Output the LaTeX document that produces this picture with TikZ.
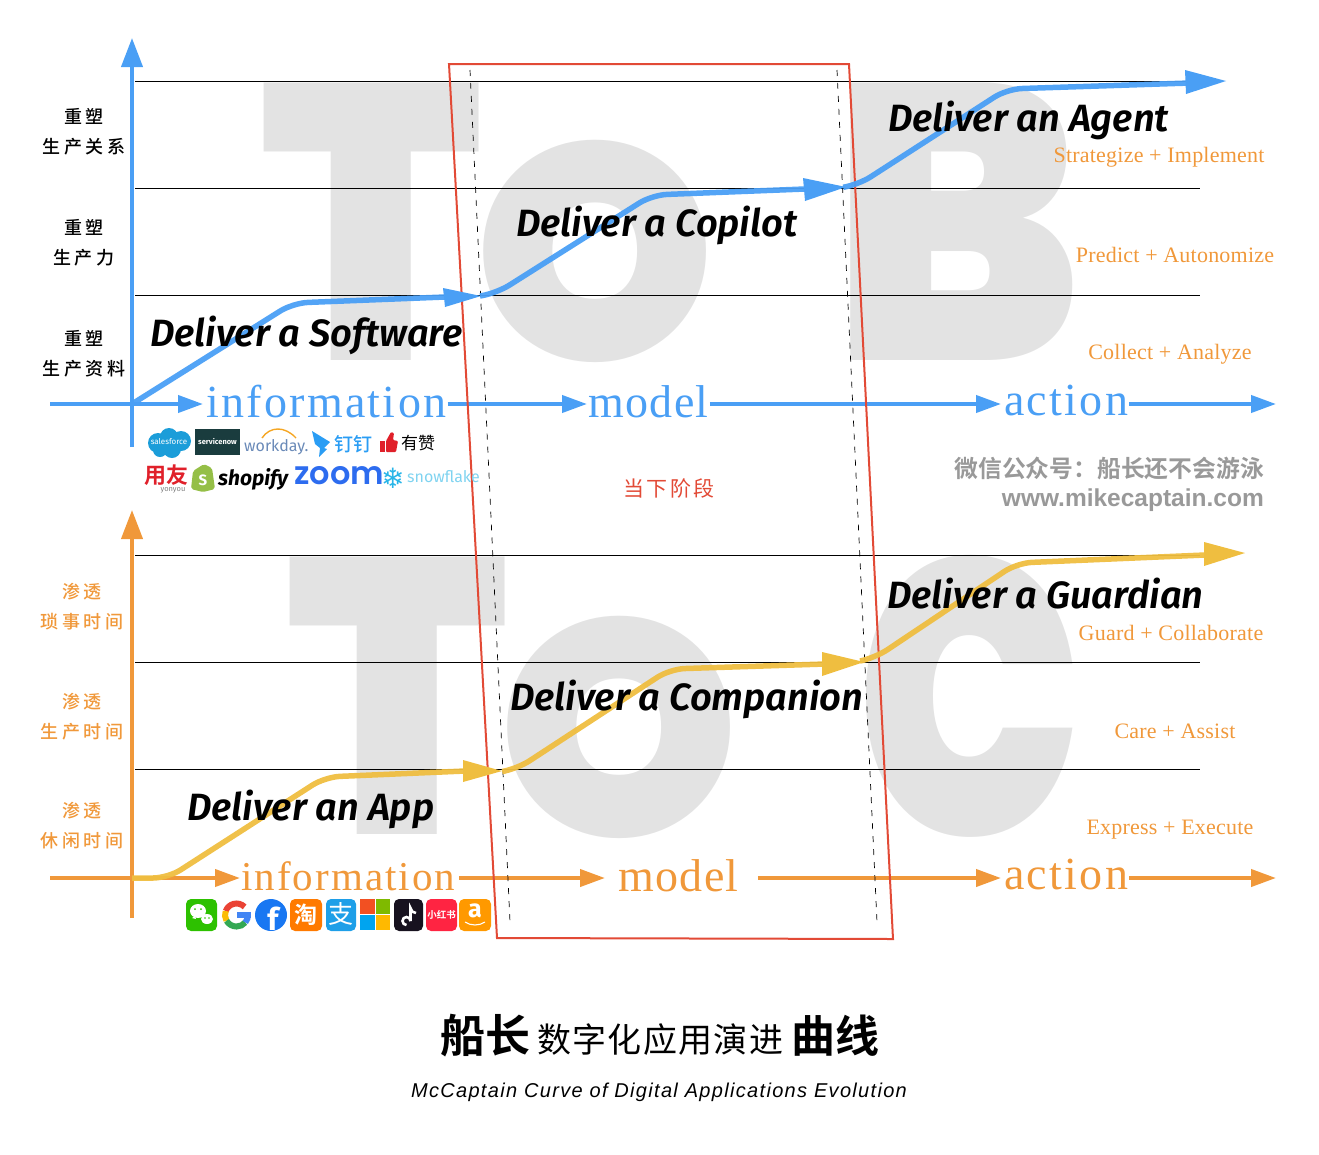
\documentclass[tikz,border=0pt]{standalone}
\usepackage{fontspec}
\usepackage{tikz}
\usetikzlibrary{arrows.meta, positioning}
\setmainfont{Liberation Serif}
\setsansfont{Liberation Sans}
\newfontfamily\cjkfont{Noto Sans CJK SC}
\newfontfamily\cjkmedium{Noto Sans CJK SC Medium}
\newfontfamily\cjkbold{Noto Sans CJK SC Bold}
\newfontfamily\heavyfont{Poppins Black}
\newfontfamily\zoomfont{Poppins SemiBold}
\newfontfamily\deliverfont{Fira Sans SemiBold Italic}
\newfontfamily\logofont{Fira Sans}
\newfontfamily\symbfont{DejaVu Sans}
\definecolor{axisblue}{HTML}{4A9FF5}
\definecolor{axisorange}{HTML}{F0983A}
\definecolor{curveyellow}{HTML}{EFBE40}
\definecolor{framered}{HTML}{E24A36}
\definecolor{lettergray}{HTML}{E3E3E3}
\definecolor{forceblue}{HTML}{1B9DD9}
\definecolor{nowdark}{HTML}{1A3C3E}
\definecolor{workslate}{HTML}{6A8AB8}
\definecolor{workorange}{HTML}{F5A623}
\definecolor{dingblue}{HTML}{2A9DF4}
\definecolor{thumbred}{HTML}{E0202A}
\definecolor{shopgreen}{HTML}{95BF47}
\definecolor{zoomblue}{HTML}{2D6CEF}
\definecolor{flakeblue}{HTML}{29B5E8}
\definecolor{flakelight}{HTML}{7FD3F0}
\definecolor{chatgreen}{HTML}{2DC100}
\definecolor{gred}{HTML}{EA4335}
\definecolor{gyellow}{HTML}{FBBC05}
\definecolor{ggreen}{HTML}{34A853}
\definecolor{gblue}{HTML}{4285F4}
\definecolor{fbblue}{HTML}{1877F2}
\definecolor{taoorange}{HTML}{FF7A00}
\definecolor{payblue}{HTML}{1E9FE8}
\definecolor{msred}{HTML}{F25022}
\definecolor{msgreen}{HTML}{7FBA00}
\definecolor{msblue}{HTML}{00A4EF}
\definecolor{msyellow}{HTML}{FFB900}
\definecolor{tokblack}{HTML}{17121F}
\definecolor{bookred}{HTML}{FF2442}
\definecolor{amazonorange}{HTML}{FF9900}
\tikzset{
  bigletter/.style={lettergray, inner sep=0pt, font=\fontsize{392}{392}\heavyfont},
  bigroundletter/.style={lettergray, inner sep=0pt, font=\fontsize{306}{306}\heavyfont},
  stagelabel/.style={font=\fontsize{38}{38}\deliverfont, inner sep=0pt},
  flowword/.style={font=\fontsize{46}{46}\selectfont\addfontfeature{LetterSpace=5}, inner sep=1pt},
  flowshort/.style={font=\fontsize{46}{46}\selectfont\addfontfeature{LetterSpace=3}, inner sep=1pt},
  verblabel/.style={axisorange, font=\fontsize{22}{22}\selectfont\addfontfeature{LetterSpace=1}, inner sep=0pt},
  rowlabel/.style={align=center, font=\fontsize{18}{30}\cjkmedium\addfontfeature{LetterSpace=19}, inner sep=0pt},
  gridline/.style={black, line width=0.7pt},
  axisline/.style={line width=4pt, -{Stealth[length=25pt, width=17pt, inset=0pt]}},
  axisup/.style={line width=4pt, -{Stealth[length=29pt, width=21pt, inset=0pt]}},
  curveline/.style={line width=5.5pt, opacity=0.95, rounded corners=15pt},
  dashline/.style={black, dash pattern=on 6pt off 7pt, line width=0.7pt},
  iconbox/.style={rounded corners=5pt},
  logotext/.style={inner sep=0pt, anchor=west},
  icontext/.style={white, inner sep=0pt},
}
\begin{document}
\begin{tikzpicture}[x=1pt, y=-1pt]
  \useasboundingbox (0,0) rectangle (1319,1154);
  %% background letters
  \node[bigletter] (bigT1) at (372,222) {\scalebox{.92}[1]{T}};
  \node[bigroundletter] (bigO1) at (595,251) {O};
  \node[bigletter] (bigB1) at (957,222) {\scalebox{.93}[1]{B}};
  \node[bigletter] (bigT2) at (398,696) {\scalebox{.92}[1]{T}};
  \node[bigroundletter] (bigO2) at (619,727) {O};
  \node[bigletter] (bigC2) at (970,696) {\scalebox{.76}[1]{C}};

  %% grid
  \foreach \y in {81,188,295} \draw[gridline] (135,\y) -- (1200,\y);
  \foreach \y in {555,662,769} \draw[gridline] (135,\y) -- (1200,\y);

  %% top axes
  \coordinate (topO) at (132,404);
  \coordinate (topStart) at (50,404);
  \node[flowword, axisblue, anchor=west] (info1) at (205,402) {information};
  \node[flowshort, axisblue, anchor=west] (model1) at (587,402) {model};
  \node[flowword, axisblue, anchor=west] (action1) at (1003,400) {action};
  \coordinate (topEnd) at (1276,404);
  \coordinate (topUp) at (132,38);
  \coordinate (topDown) at (132,447);
  \draw[axisup, axisblue] (topDown) -- (topUp);
  \draw[axisline, axisblue, shorten >=2pt] (topStart) -- (info1.west |- topO);
  \draw[axisline, axisblue] (info1.east |- topO) -- (model1.west |- topO);
  \draw[axisline, axisblue, shorten >=2pt] (model1.east |- topO) -- (action1.west |- topO);
  \draw[axisline, axisblue] (action1.east |- topO) -- (topEnd);

  %% bottom axes
  \coordinate (botO) at (132,878);
  \coordinate (botStart) at (50,878);
  \node[flowword, axisorange, anchor=west, font=\fontsize{41}{41}\selectfont\addfontfeature{LetterSpace=5}] (info2) at (240,876) {information};
  \node[flowshort, axisorange, anchor=west] (model2) at (617,876) {model};
  \node[flowword, axisorange, anchor=west] (action2) at (1003,874) {action};
  \coordinate (botEnd) at (1276,878);
  \coordinate (botUp) at (132,510);
  \coordinate (botDown) at (132,918);
  \draw[axisup, axisorange] (botDown) -- (botUp);
  \draw[axisline, axisorange] (botStart) -- (info2.west |- botO);
  \draw[axisline, axisorange, shorten <=3pt, shorten >=12pt] (info2.east |- botO) -- (model2.west |- botO);
  \draw[axisline, axisorange, shorten <=18pt, shorten >=2pt] (model2.east |- botO) -- (action2.west |- botO);
  \draw[axisline, axisorange] (action2.east |- botO) -- (botEnd);

  %% frame
  \draw[framered, line width=2pt] (449,64) -- (849,64) -- (893,939) -- (497,938) -- cycle;
  \draw[dashline] (470,70) -- (510,922);
  \draw[dashline] (837,70) -- (877,922);
  \node[framered, font=\fontsize{21}{21}\cjkfont\addfontfeature{LetterSpace=11}] (nowlabel) at (669,488) {当下阶段};

  %% blue curve
  \draw[curveline, axisblue] (topO) -- (293,303) -- (445,297);
  \draw[curveline, axisblue] (480,296) -- (497,293) -- (652,195) -- (805,189);
  \draw[curveline, axisblue] (845,187) -- (858,185) -- (1007,89) -- (1190,83);
  \fill[axisblue] (443,288) -- (481,296) -- (445,307) -- cycle;
  \fill[axisblue] (803,178) -- (846,187) -- (805,201) -- cycle;
  \fill[axisblue] (1185,70) -- (1226,81) -- (1186,94) -- cycle;

  %% yellow curve
  \draw[curveline, curveyellow] (botO) -- (168,878) -- (325,777) -- (465,771);
  \draw[curveline, curveyellow] (505,771) -- (517,769) -- (670,669) -- (825,664);
  \draw[curveline, curveyellow] (860,661) -- (875,658) -- (1017,563) -- (1205,555);
  \fill[curveyellow] (463,760) -- (502,771) -- (463,782) -- cycle;
  \fill[curveyellow] (822,652) -- (864,662) -- (822,676) -- cycle;
  \fill[curveyellow] (1204,542) -- (1245,553) -- (1204,566) -- cycle;

  %% stage names
  \node[stagelabel, anchor=west] (software) at (150,335) {Deliver a Software};
  \node[stagelabel, anchor=west] (copilot) at (516,225) {Deliver a Copilot};
  \node[stagelabel, anchor=west] (agent) at (888,120) {Deliver an Agent};
  \node[stagelabel, anchor=west] (app) at (187,809) {Deliver an App};
  \node[stagelabel, anchor=west] (companion) at (510,699) {Deliver a Companion};
  \node[stagelabel, anchor=west] (guardian) at (887,594) {Deliver a Guardian};

  %% verb labels
  \node[verblabel] (collect) at (1170,354) {Collect + Analyze};
  \node[verblabel] (predict) at (1175,255) {Predict + Autonomize};
  \node[verblabel] (strategize) at (1159,157) {Strategize + Implement};
  \node[verblabel] (express) at (1170,830) {Express + Execute};
  \node[verblabel] (care) at (1175,731) {Care + Assist};
  \node[verblabel] (guard) at (1171,633) {Guard + Collaborate};

  %% row labels
  \node[rowlabel] (rowa) at (84,132) {重塑\\生产关系};
  \node[rowlabel] (rowb) at (84,243) {重塑\\生产力};
  \node[rowlabel] (rowc) at (84,354) {重塑\\生产资料};
  \node[rowlabel, axisorange] (rowd) at (82,607) {渗透\\琐事时间};
  \node[rowlabel, axisorange] (rowe) at (82,717) {渗透\\生产时间};
  \node[rowlabel, axisorange] (rowf) at (82,826) {渗透\\休闲时间};

  %% logos, first row
  \fill[forceblue] (158,443) circle (10) (169,437) circle (9) (181,441) circle (10) (172,449) circle (9) (160,450) circle (7);
  \node[icontext, font=\fontsize{8}{8}\logofont] (salesforce) at (169,442) {salesforce};
  \fill[nowdark] (195,429) rectangle (240,455);
  \node[icontext, font=\fontsize{7.5}{8}\logofont\bfseries] (servicenow) at (217.5,442) {servicenow};
  \draw[workorange, line width=1.4pt] (262,438) .. controls (270,426) and (285,426) .. (296,438);
  \node[logotext, workslate, font=\fontsize{16}{16}\logofont] (workday) at (244,447) {workday.};
  \fill[dingblue] (312,431) -- (330,442) -- (324,448) -- (327,449) -- (319,457) -- (320,448) -- (315,444) -- cycle;
  \node[logotext, dingblue, font=\fontsize{19}{19}\cjkmedium] (dingtalk) at (334,444) {钉钉};
  \fill[thumbred] (380,441) rectangle (385,452);
  \fill[thumbred, rounded corners=1pt] (386,441) -- (391,432) -- (394,433) -- (393,440) -- (398,441) -- (396,452) -- (386,452) -- cycle;
  \node[logotext, font=\fontsize{17}{17}\cjkfont] (youzan) at (401,443) {有赞};

  %% logos, second row
  \node[logotext, thumbred, font=\fontsize{22}{22}\cjkbold] (yonyou) at (144,475) {用友};
  \node[inner sep=0pt, gray, font=\fontsize{7.5}{8}\logofont] (yonyoulat) at (173,490) {yonyou};
  \fill[shopgreen, rounded corners=2pt] (193,471) -- (204,464) -- (212,468) -- (215,489) -- (203,492) -- (191,489) -- cycle;
  \node[icontext, font=\fontsize{15}{15}\logofont\bfseries] (shopifys) at (203,480) {S};
  \node[logotext, font=\fontsize{21}{21}\logofont\bfseries\itshape] (shopify) at (218,479) {shopify};
  \node[logotext, zoomblue, font=\fontsize{32}{32}\zoomfont] (zoomlogo) at (294,476) {zoom};
  \node[logotext, flakeblue, font=\fontsize{28}{28}\symbfont] (flake) at (381,478) {❄};
  \node[logotext, flakelight, font=\fontsize{16}{16}\logofont] (snowflake) at (407,477) {snowflake};

  %% icons
  \fill[chatgreen, iconbox] (186,899) rectangle (217,931);
  \fill[white] (198,911) ellipse (8 and 7) (207,919) ellipse (6 and 5);
  \fill[white] (192,918) -- (195,916) -- (196,919) -- cycle;
  \fill[chatgreen] (195,909) circle (1) (201,909) circle (1) (205,918) circle (.8) (209,918) circle (.8);

  % google
  \draw[gred, line width=6pt] (236.5,915) ++(-45:11.5) arc[start angle=-45, end angle=-160, radius=11.5];
  \draw[gyellow, line width=6pt] (236.5,915) ++(-160:11.5) arc[start angle=-160, end angle=-210, radius=11.5];
  \draw[ggreen, line width=6pt] (236.5,915) ++(-210:11.5) arc[start angle=-210, end angle=-320, radius=11.5];
  \draw[gblue, line width=6pt] (236.5,915) ++(-320:11.5) arc[start angle=-320, end angle=-360, radius=11.5];
  \fill[gblue] (237,912) rectangle (251,918);

  \fill[fbblue] (271,915) circle (16);
  \node[icontext, font=\fontsize{31}{31}\logofont\bfseries] (facebook) at (273,919) {f};
  \fill[taoorange, iconbox] (290,899) rectangle (322,931);
  \node[icontext, font=\fontsize{23}{23}\cjkbold] (taobao) at (306,915) {淘};
  \fill[payblue, iconbox] (326,899) rectangle (356,931);
  \node[icontext, font=\fontsize{25}{25}\cjkfont] (alipay) at (341,914) {支};
  \fill[msred] (360,899) rectangle (374.5,914);
  \fill[msgreen] (375.5,899) rectangle (390,914);
  \fill[msblue] (360,915) rectangle (374.5,930);
  \fill[msyellow] (375.5,915) rectangle (390,930);
  \fill[tokblack, iconbox] (394,899) rectangle (423,931);
  \draw[white, line width=2.6pt] (410.5,921) -- (410.5,908) .. controls (411,911) and (413,913) .. (416,913);
  \draw[white, line width=2.6pt] (410.5,921) arc[start angle=0, end angle=-270, radius=4];
  \fill[bookred, iconbox] (426,899) rectangle (457,931);
  \node[icontext, font=\fontsize{9.5}{10}\cjkbold] (xiaohongshu) at (441.5,915) {小红书};
  \fill[amazonorange, iconbox] (459,899) rectangle (491,931);
  \node[icontext, font=\fontsize{25}{25}\logofont\bfseries] (amazon) at (475,911) {a};
  \draw[white, line width=1.1pt] (465,922) .. controls (471,926) and (479,926) .. (485,922);

  %% watermark
  \node[gray!80, anchor=east, font=\fontsize{23.8}{24}\cjkbold, inner sep=0pt] (wechat) at (1264,468) {微信公众号：船长还不会游泳};
  \node[gray!80, anchor=east, font=\fontsize{24.5}{25}\sffamily\bfseries, inner sep=0pt] (site) at (1264,500) {www.mikecaptain.com};

  %% title
  \node[font=\fontsize{45}{45}\cjkbold, anchor=west, inner sep=0pt] (tta) at (440,1036) {船长};
  \node[font=\fontsize{34}{34}\cjkfont\addfontfeature{LetterSpace=4}, anchor=west, inner sep=0pt] (ttb) at (537,1040) {数字化应用演进};
  \node[font=\fontsize{44}{44}\cjkbold, anchor=west, inner sep=0pt] (ttc) at (791,1036) {曲线};
  \node[font=\fontsize{20}{20}\sffamily\itshape\addfontfeature{LetterSpace=6.6}, inner sep=0pt] (ttd) at (659,1092) {McCaptain Curve of Digital Applications Evolution};
\end{tikzpicture}
\end{document}
